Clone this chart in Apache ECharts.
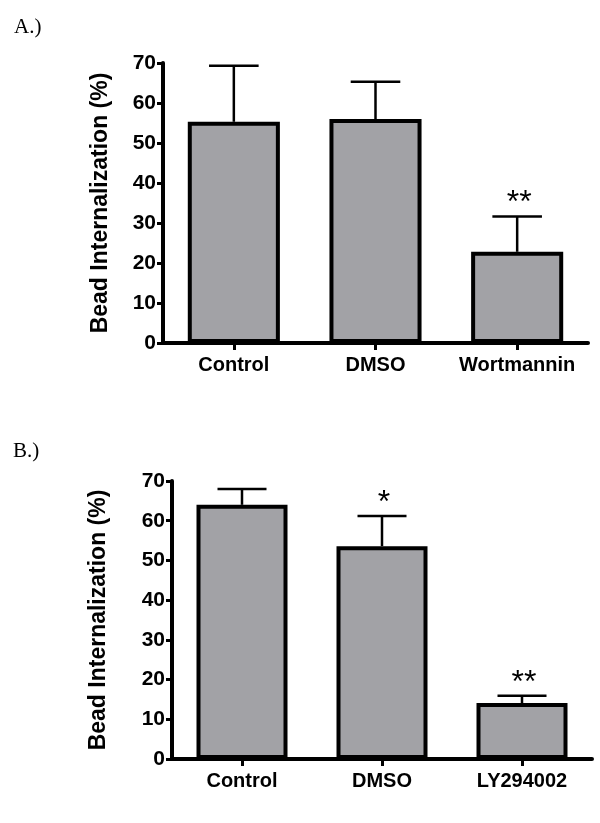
<!DOCTYPE html>
<html><head><meta charset="utf-8">
<script src="https://cdn.jsdelivr.net/npm/echarts@6/dist/echarts.min.js"></script>
<style>html,body{margin:0;padding:0;background:#fff}#c{width:600px;height:823px}</style>
</head><body><div id="c"></div>
<script>
const categoriesA = ['Control', 'DMSO', 'Wortmannin'];
const meansA = [55.3, 56.0, 22.8];
const errA = [14.0, 9.3, 8.8];
const annA = ['', '', '**'];

const categoriesB = ['Control', 'DMSO', 'LY294002'];
const meansB = [64.0, 53.6, 14.1];
const errB = [4.0, 7.6, 1.8];
const annB = ['', '*', '**'];

const yTicks = [0, 10, 20, 30, 40, 50, 60, 70];
const yName = 'Bead Internalization (%)';

const FONT = "'Liberation Sans', Arial, sans-serif";
const BAR = '#a2a2a6';

function errData(means, errs) {
  return means.map((m, i) => [i, m, m + errs[i]]);
}

function errRender(params, api) {
  const i = api.value(0);
  const base = api.coord([i, api.value(1)]);
  const top = api.coord([i, api.value(2)]);
  const bw = api.size([1, 0])[0] * 0.35;
  return { type: 'group', children: [
    { type: 'line', shape: { x1: base[0], y1: base[1], x2: top[0], y2: top[1] }, style: { stroke: '#000', lineWidth: 2.5 } },
    { type: 'line', shape: { x1: top[0] - bw / 2, y1: top[1], x2: top[0] + bw / 2, y2: top[1] }, style: { stroke: '#000', lineWidth: 2.5 } }
  ] };
}

function makeAnnRender(anns) {
  return function (params, api) {
    const i = api.value(0);
    const top = api.coord([i, api.value(2)]);
    return {
      type: 'text',
      style: { text: anns[params.dataIndex], x: top[0] + 2, y: top[1] - 13, align: 'center', verticalAlign: 'middle',
        font: '32px ' + FONT, fill: '#000' }
    };
  };
}

function yAxis(gi, gap) {
  return {
    type: 'value', gridIndex: gi, min: 0, max: 70, interval: 10,
    name: yName, nameLocation: 'middle', nameGap: gap,
    nameTextStyle: { fontFamily: FONT, fontWeight: 'bold', fontSize: 23, color: '#000' },
    axisLine: { show: true, lineStyle: { color: '#000', width: 4 } },
    axisTick: { show: true, length: 6, lineStyle: { color: '#000', width: 3 } },
    axisLabel: { margin: 7, fontFamily: FONT, fontWeight: 'bold', fontSize: 21, color: '#000',
      customValues: yTicks },
    splitLine: { show: false }
  };
}

function xAxis(gi, cats) {
  return {
    type: 'category', gridIndex: gi, data: cats,
    axisLine: { show: true, lineStyle: { color: '#000', width: 4 } },
    axisTick: { show: true, alignWithLabel: true, interval: 0, length: 7, lineStyle: { color: '#000', width: 3 } },
    axisLabel: { interval: 0, margin: 12, fontFamily: FONT, fontWeight: 'bold', fontSize: 20, color: '#000' }
  };
}

function seriesFor(gi, means, errs, anns) {
  return [
    { type: 'bar', xAxisIndex: gi, yAxisIndex: gi, data: means, barWidth: '65%',
      itemStyle: { color: BAR, borderColor: '#000', borderWidth: 4 }, silent: true, z: 2 },
    { type: 'custom', xAxisIndex: gi, yAxisIndex: gi, data: errData(means, errs),
      renderItem: errRender, z: 3, silent: true },
    { type: 'custom', xAxisIndex: gi, yAxisIndex: gi, data: errData(means, errs),
      renderItem: makeAnnRender(anns), z: 4, silent: true }
  ];
}

const chart = echarts.init(document.getElementById('c'), null, { renderer: 'canvas' });
chart.setOption({
  animation: false,
  backgroundColor: '#fff',
  grid: [
    { left: 163, right: 12, top: 63, bottom: 480 },
    { left: 172, right: 8, top: 481, bottom: 64 }
  ],
  xAxis: [xAxis(0, categoriesA), xAxis(1, categoriesB)],
  yAxis: [yAxis(0, 51), yAxis(1, 62)],
  series: [...seriesFor(0, meansA, errA, annA), ...seriesFor(1, meansB, errB, annB)],
  graphic: [
    { type: 'text', left: 14, top: 17, style: { text: 'A.)', font: '21px "Liberation Serif", "Times New Roman", serif', fill: '#000' } },
    { type: 'text', left: 13, top: 441, style: { text: 'B.)', font: '21px "Liberation Serif", "Times New Roman", serif', fill: '#000' } }
  ]
});
</script></body></html>
